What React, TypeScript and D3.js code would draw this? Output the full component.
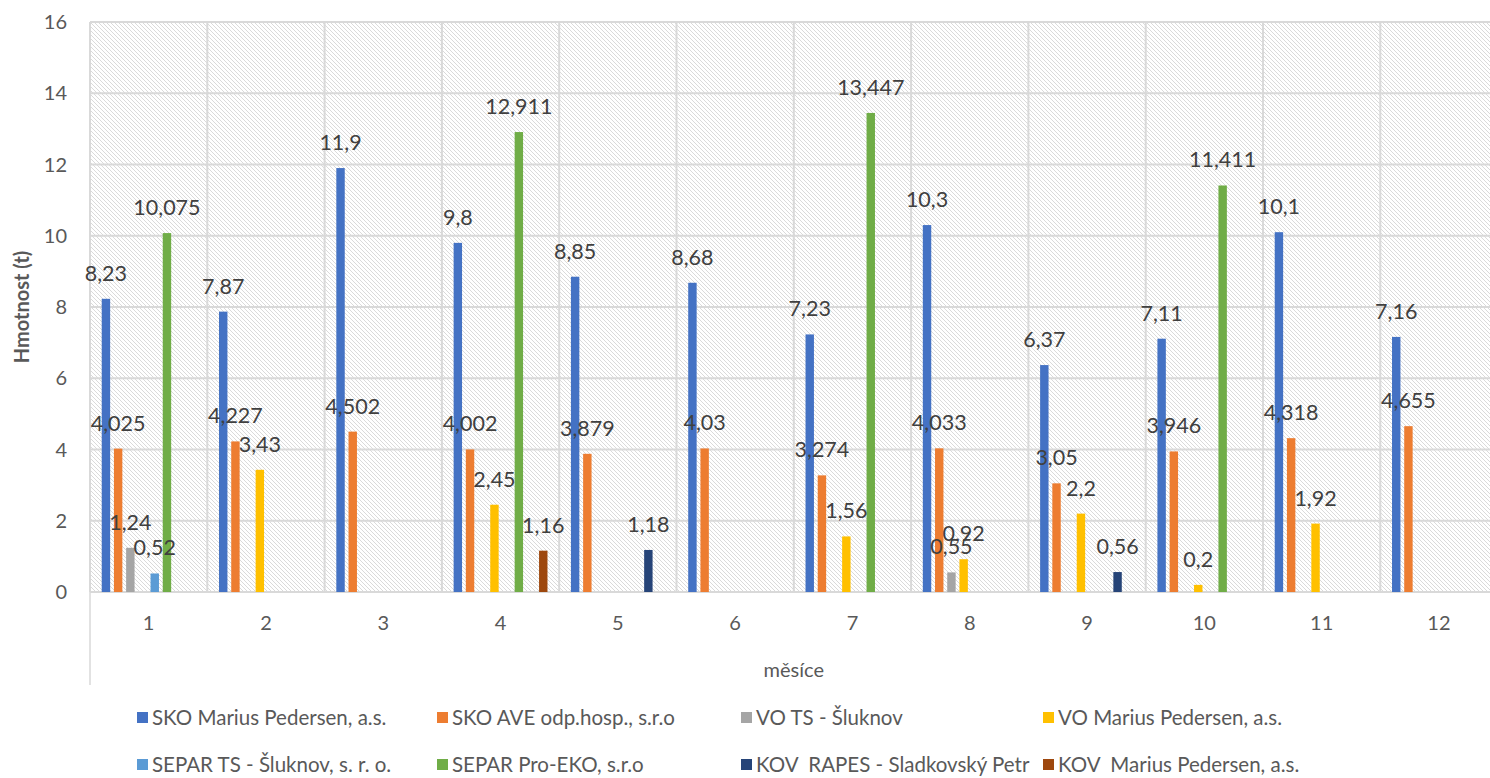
import * as d3 from 'd3'

const months = ['1', '2', '3', '4', '5', '6', '7', '8', '9', '10', '11', '12']

const seriesNames = [
  'SKO Marius Pedersen, a.s.',
  'SKO AVE odp.hosp., s.r.o',
  'VO TS - Šluknov',
  'VO Marius Pedersen, a.s.',
  'SEPAR TS - Šluknov, s. r. o.',
  'SEPAR Pro-EKO, s.r.o',
  'KOV  RAPES - Sladkovský Petr',
  'KOV  Marius Pedersen, a.s.',
]

const seriesColors = ['#4472c4', '#ed7d31', '#a5a5a5', '#ffc000', '#5b9bd5', '#70ad47', '#264478', '#9e480e']

// values per series, one entry per month (null = no bar)
const skoMarius = [8.23, 7.87, 11.9, 9.8, 8.85, 8.68, 7.23, 10.3, 6.37, 7.11, 10.1, 7.16]
const skoAve = [4.025, 4.227, 4.502, 4.002, 3.879, 4.03, 3.274, 4.033, 3.05, 3.946, 4.318, 4.655]
const voTs = [1.24, null, null, null, null, null, null, 0.55, null, null, null, null]
const voMarius = [null, 3.43, null, 2.45, null, null, 1.56, 0.92, 2.2, 0.2, 1.92, null]
const separTs = [0.52, null, null, null, null, null, null, null, null, null, null, null]
const separProEko = [10.075, null, null, 12.911, null, null, 13.447, null, null, 11.411, null, null]
const kovRapes = [null, null, null, null, 1.18, null, null, null, 0.56, null, null, null]
const kovMarius = [null, null, null, 1.16, null, null, null, null, null, null, null, null]

const seriesValues: (number | null)[][] = [skoMarius, skoAve, voTs, voMarius, separTs, separProEko, kovRapes, kovMarius]

const yTicks = [0, 2, 4, 6, 8, 10, 12, 14, 16]

const W = 1490
const H = 778
const FONT = 'Lato, "Open Sans", sans-serif'

export default function App() {
  const left = 90
  const top = 22
  const bottom = 592
  const catW = 117.3
  const right = left + catW * months.length

  const x0 = d3.scaleBand<string>().domain(months).range([left, right]).padding(0)
  const x1 = d3
    .scaleBand<number>()
    .domain(d3.range(seriesNames.length))
    .range([0, x0.bandwidth()])
    .paddingInner(0.31)
    .paddingOuter(0.96)
  const y = d3.scaleLinear().domain([0, 16]).range([bottom, top])

  const fmt = (v: number) => String(v).replace('.', ',')

  const legendX = [137, 437, 741, 1043]
  const legendY = [712, 759]

  return (
    <svg width={W} height={H} style={{ display: 'block', background: '#fff' }} fontFamily={FONT}>
      <style>{'body{margin:0}'}</style>
      <defs>
        <pattern id="hatch" patternUnits="userSpaceOnUse" width="4" height="4">
          <rect width="4" height="4" fill="#ffffff" />
          <path d="M-1,-1 L5,5 M-1,3 L1,5 M3,-1 L5,1" stroke="#d8d8d8" strokeWidth="0.95" />
        </pattern>
      </defs>

      {/* plot background */}
      <rect x={left} y={top} width={right - left} height={bottom - top} fill="url(#hatch)" />

      {/* horizontal gridlines */}
      {yTicks.map((t) => (
        <line key={'g' + t} x1={left} x2={right} y1={y(t)} y2={y(t)} stroke="#d9d9d9" strokeWidth={2} />
      ))}
      {/* category separators */}
      {d3.range(months.length + 1).map((i) => (
        <line
          key={'v' + i}
          x1={left + i * catW}
          x2={left + i * catW}
          y1={top}
          y2={bottom}
          stroke="#d9d9d9"
          strokeWidth={2}
        />
      ))}
      <line x1={left} x2={left} y1={bottom} y2={685} stroke="#d9d9d9" strokeWidth={1.5} />

      {/* bars */}
      {seriesValues.map((vals, si) =>
        vals.map((v, mi) =>
          v == null ? null : (
            <rect
              key={`b${si}-${mi}`}
              x={(x0(months[mi]) ?? 0) + (x1(si) ?? 0)}
              y={y(v)}
              width={x1.bandwidth()}
              height={bottom - y(v)}
              fill={seriesColors[si]}
            />
          )
        )
      )}

      {/* data labels */}
      {seriesValues.map((vals, si) =>
        vals.map((v, mi) =>
          v == null ? null : (
            <text
              key={`l${si}-${mi}`}
              x={(x0(months[mi]) ?? 0) + (x1(si) ?? 0) + x1.bandwidth() / 2}
              y={y(v) - 18}
              textAnchor="middle"
              fontSize={21.5}
              fill="#404040"
            >
              {fmt(v)}
            </text>
          )
        )
      )}

      {/* y axis tick labels */}
      {yTicks.map((t) => (
        <text key={'y' + t} x={67} y={y(t) + 7} textAnchor="end" fontSize={20} fill="#595959">
          {t}
        </text>
      ))}

      {/* x axis labels */}
      {months.map((m) => (
        <text
          key={'x' + m}
          x={(x0(m) ?? 0) + x0.bandwidth() / 2}
          y={630}
          textAnchor="middle"
          fontSize={20}
          fill="#595959"
        >
          {m}
        </text>
      ))}

      {/* axis titles */}
      <text
        transform={`translate(29,${(top + bottom) / 2}) rotate(-90)`}
        textAnchor="middle"
        fontSize={20}
        fontWeight="bold"
        fill="#595959"
      >
        Hmotnost (t)
      </text>
      <text x={(left + right) / 2} y={677} textAnchor="middle" fontSize={20} fill="#595959">
        měsíce
      </text>

      {/* legend */}
      {seriesNames.map((name, i) => {
        const lx = legendX[i % 4]
        const ly = legendY[Math.floor(i / 4)]
        return (
          <g key={'lg' + i} transform={`translate(${lx},${ly})`}>
            <rect x={0} y={0} width={11} height={11} fill={seriesColors[i]} />
            <text x={15} y={13} fontSize={20.5} fill="#595959" style={{ whiteSpace: 'pre' }}>
              {name}
            </text>
          </g>
        )
      })}
    </svg>
  )
}
